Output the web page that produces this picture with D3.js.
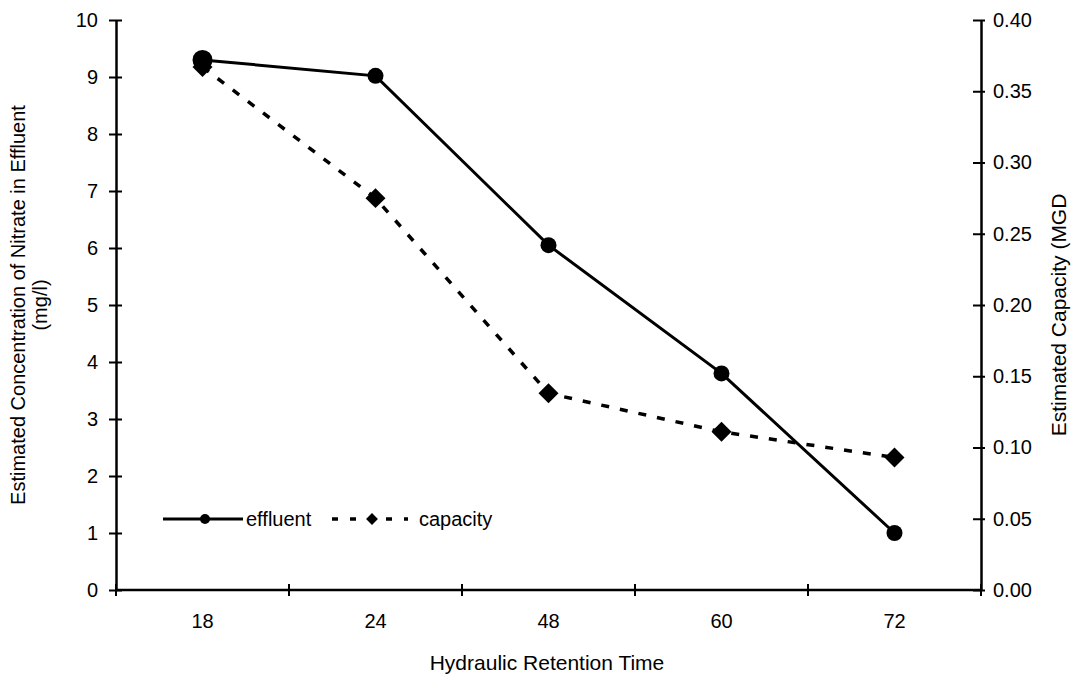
<!DOCTYPE html>
<html>
<head>
<meta charset="utf-8">
<script src="https://cdn.jsdelivr.net/npm/d3@7"></script>
<style>
  body { margin: 0; background: #fff; }
  text { font-family: "Liberation Sans", Arial, sans-serif; fill: #000; }
</style>
</head>
<body>
<div id="chart"></div>
<script>
// Chart data
var times = ["18", "24", "48", "60", "72"];
var effluent = [9.3, 9.02, 6.05, 3.8, 1.0];
var capacity = [0.367, 0.275, 0.138, 0.111, 0.093];
var leftTicks = [0, 1, 2, 3, 4, 5, 6, 7, 8, 9, 10];
var rightTicks = [0, 0.05, 0.10, 0.15, 0.20, 0.25, 0.30, 0.35, 0.40];

var svgWidth = 1079;
var svgHeight = 675;
var margin = { top: 20, right: 98, bottom: 85, left: 116 };
var width = svgWidth - margin.left - margin.right;
var height = svgHeight - margin.top - margin.bottom;

var svg = d3.select("#chart")
  .append("svg")
  .attr("width", svgWidth)
  .attr("height", svgHeight);

var chartGroup = svg.append("g")
  .attr("transform", `translate(${margin.left}, ${margin.top})`);

// scales
var xScale = d3.scaleBand().domain(times).range([0, width]);
var yLeft = d3.scaleLinear().domain([0, 10]).range([height, 0]);
var yRight = d3.scaleLinear().domain([0, 0.40]).range([height, 0]);

function styleAxis(g) {
  g.selectAll("path.domain").attr("stroke", "#000").attr("stroke-width", 2.5);
  g.selectAll(".tick line").attr("stroke", "#000").attr("stroke-width", 2);
  g.selectAll(".tick text").style("font-size", "20px");
}

// x axis: ticks at band boundaries, labels at centres
var xAxisG = chartGroup.append("g")
  .attr("transform", `translate(0, ${height})`);
xAxisG.append("line")
  .attr("x1", 0).attr("x2", width)
  .attr("stroke", "#000").attr("stroke-width", 2.5);
var boundaries = times.map(d => xScale(d)).concat([width]);
xAxisG.selectAll("line.tk")
  .data(boundaries)
  .enter()
  .append("line")
  .attr("class", "tk")
  .attr("x1", d => d).attr("x2", d => d)
  .attr("y1", -6).attr("y2", 6)
  .attr("stroke", "#000").attr("stroke-width", 2);
xAxisG.selectAll("text")
  .data(times)
  .enter()
  .append("text")
  .attr("x", d => xScale(d) + xScale.bandwidth() / 2)
  .attr("y", 38)
  .attr("text-anchor", "middle")
  .style("font-size", "20px")
  .text(d => d);

// left axis
var leftAxis = d3.axisLeft(yLeft)
  .tickValues(leftTicks)
  .tickSizeInner(6)
  .tickSizeOuter(0)
  .tickPadding(12)
  .tickFormat(d3.format("d"));
var leftG = chartGroup.append("g").call(leftAxis);
styleAxis(leftG);
leftG.selectAll(".tick line").attr("x2", -7).attr("x1", 6);

// right axis
var rightAxis = d3.axisRight(yRight)
  .tickValues(rightTicks)
  .tickSizeInner(6)
  .tickSizeOuter(0)
  .tickPadding(6)
  .tickFormat(d3.format(".2f"));
var rightG = chartGroup.append("g")
  .attr("transform", `translate(${width}, 0)`)
  .call(rightAxis);
styleAxis(rightG);
rightG.selectAll(".tick line").attr("x1", -8).attr("x2", 4);

var cx = d => xScale(d) + xScale.bandwidth() / 2;

// effluent line
var effLine = d3.line()
  .x((d, i) => cx(times[i]))
  .y(d => yLeft(d));
chartGroup.append("path")
  .datum(effluent)
  .attr("d", effLine)
  .attr("fill", "none")
  .attr("stroke", "#000")
  .attr("stroke-width", 3);

// capacity line
var capLine = d3.line()
  .x((d, i) => cx(times[i]))
  .y(d => yRight(d));
chartGroup.append("path")
  .datum(capacity)
  .attr("d", capLine)
  .attr("fill", "none")
  .attr("stroke", "#000")
  .attr("stroke-width", 3.5)
  .attr("stroke-dasharray", "8,11");

var diamond = d3.symbol().type(d3.symbolSquare).size(200);

chartGroup.selectAll("path.cap")
  .data(capacity)
  .enter()
  .append("path")
  .attr("class", "cap")
  .attr("d", diamond)
  .attr("transform", (d, i) => `translate(${cx(times[i])}, ${yRight(d)}) rotate(45)`)
  .attr("fill", "#000");

chartGroup.selectAll("circle.eff")
  .data(effluent)
  .enter()
  .append("circle")
  .attr("class", "eff")
  .attr("cx", (d, i) => cx(times[i]))
  .attr("cy", d => yLeft(d))
  .attr("r", (d, i) => i === 0 ? 10 : 8)
  .attr("fill", "#000");

// legend
var legend = svg.append("g");
legend.append("line")
  .attr("x1", 163).attr("x2", 243).attr("y1", 519).attr("y2", 519)
  .attr("stroke", "#000").attr("stroke-width", 3);
legend.append("circle")
  .attr("cx", 205).attr("cy", 519).attr("r", 5).attr("fill", "#000");
legend.append("text")
  .attr("x", 246).attr("y", 526)
  .style("font-size", "20px")
  .text("effluent");
legend.append("line")
  .attr("x1", 332).attr("x2", 408).attr("y1", 519).attr("y2", 519)
  .attr("stroke", "#000").attr("stroke-width", 3.5)
  .attr("stroke-dasharray", "6,12");
legend.append("path")
  .attr("d", d3.symbol().type(d3.symbolSquare).size(70))
  .attr("transform", "translate(372, 519) rotate(45)")
  .attr("fill", "#000");
legend.append("text")
  .attr("x", 419).attr("y", 526)
  .style("font-size", "20px")
  .text("capacity");

// axis titles
svg.append("text")
  .attr("transform", "translate(25, 305) rotate(-90)")
  .attr("text-anchor", "middle")
  .style("font-size", "20px")
  .text("Estimated Concentration of Nitrate in Effluent");
svg.append("text")
  .attr("transform", "translate(47, 305) rotate(-90)")
  .attr("text-anchor", "middle")
  .style("font-size", "20px")
  .text("(mg/l)");
svg.append("text")
  .attr("transform", "translate(1066, 315) rotate(-90)")
  .attr("text-anchor", "middle")
  .style("font-size", "21px")
  .text("Estimated Capacity (MGD");
svg.append("text")
  .attr("x", 547).attr("y", 670)
  .attr("text-anchor", "middle")
  .style("font-size", "21px")
  .text("Hydraulic Retention Time");
</script>
</body>
</html>
